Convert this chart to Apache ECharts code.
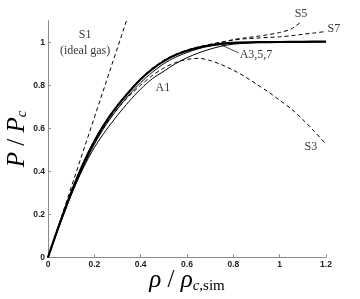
<!DOCTYPE html>
<html>
<head>
<meta charset="utf-8">
<script src="https://cdn.jsdelivr.net/npm/echarts@6/dist/echarts.min.js"></script>
<style>
html,body{margin:0;padding:0;background:#fff;}
#chart{width:360px;height:299px;}
</style>
</head>
<body>
<div id="chart"></div>
<script>
// ---- data ----
var xTicks = [0, 0.2, 0.4, 0.6, 0.8, 1, 1.2];
var yTicks = [0, 0.2, 0.4, 0.6, 0.8, 1];

var rhoS1 = [0, 0.34];
var pS1   = [0, 1.104];

var rhoGrid = [0, 0.05, 0.1, 0.15, 0.2, 0.25, 0.3, 0.35, 0.4, 0.45, 0.5, 0.55, 0.6, 0.65, 0.7, 0.75, 0.8, 0.9, 1.0, 1.1, 1.2];
var pExact  = [0, 0.155, 0.30, 0.43, 0.54, 0.63, 0.705, 0.77, 0.828, 0.875, 0.912, 0.94, 0.96, 0.975, 0.986, 0.993, 0.997, 1.0, 1.001, 1.002, 1.003];
var pA357   = [0, 0.15, 0.29, 0.415, 0.525, 0.615, 0.69, 0.755, 0.812, 0.86, 0.9, 0.93, 0.952, 0.97, 0.982, 0.99, 0.995, 0.999, 1.0, 1.001, 1.002];
var pA1     = [0, 0.15, 0.29, 0.41, 0.51, 0.59, 0.66, 0.725, 0.782, 0.83, 0.865, 0.9, 0.928, 0.95, 0.968, 0.982, 0.991, 0.998, 1.0, 1.001, 1.002];

var rhoS3 = [0, 0.05, 0.1, 0.15, 0.2, 0.25, 0.3, 0.35, 0.4, 0.45, 0.5, 0.55, 0.6, 0.65, 0.7, 0.75, 0.8, 0.85, 0.9, 0.95, 1.0, 1.05, 1.1, 1.15, 1.2];
var pS3   = [0, 0.155, 0.295, 0.425, 0.53, 0.62, 0.69, 0.75, 0.80, 0.845, 0.88, 0.905, 0.92, 0.925, 0.915, 0.895, 0.87, 0.84, 0.805, 0.77, 0.73, 0.69, 0.64, 0.585, 0.525];

var rhoS5 = [0, 0.05, 0.1, 0.15, 0.2, 0.25, 0.3, 0.35, 0.4, 0.45, 0.5, 0.55, 0.6, 0.65, 0.7, 0.75, 0.8, 0.85, 0.9, 0.95, 1.0, 1.05, 1.095];
var pS5   = [0, 0.156, 0.302, 0.432, 0.542, 0.632, 0.707, 0.772, 0.830, 0.878, 0.915, 0.943, 0.963, 0.978, 0.99, 1.0, 1.012, 1.02, 1.027, 1.035, 1.045, 1.062, 1.097];

var rhoS7 = [0, 0.05, 0.1, 0.15, 0.2, 0.25, 0.3, 0.35, 0.4, 0.45, 0.5, 0.55, 0.6, 0.65, 0.7, 0.75, 0.8, 0.85, 0.9, 0.95, 1.0, 1.05, 1.1, 1.15, 1.2];
var pS7   = [0, 0.156, 0.302, 0.432, 0.542, 0.632, 0.707, 0.772, 0.830, 0.878, 0.915, 0.943, 0.963, 0.978, 0.99, 1.0, 1.01, 1.016, 1.019, 1.022, 1.025, 1.03, 1.037, 1.043, 1.05];

// annotation labels (data coordinates)
var labelText = ['S1\n(ideal gas)', 'A1', 'A3,5,7', 'S5', 'S7', 'S3'];
var labelRho  = [0.16, 0.496, 0.898, 1.092, 1.234, 1.135];
var labelP    = [0.995, 0.788, 0.941, 1.131, 1.062, 0.513];
var leaderRho = [0.742, 0.824];
var leaderP   = [0.99, 0.95];

function zip(xs, ys) { return xs.map(function (x, i) { return [x, ys[i]]; }); }

var serif = '"Liberation Serif", "DejaVu Serif", serif';
var thin = { color: '#000', width: 1 };
var dashed = { color: '#000', width: 1, type: [4, 3] };

var chart = echarts.init(document.getElementById('chart'), null, { renderer: 'canvas' });
chart.setOption({
  animation: false,
  backgroundColor: '#fff',
  grid: { left: 48, right: 34, top: 20.7, bottom: 41.7, containLabel: false, outerBoundsMode: 'none' },
  xAxis: {
    type: 'value', min: 0, max: 1.2, interval: 0.2,
    splitLine: { show: false },
    axisLine: { lineStyle: { color: '#8a8a8a', width: 1 } },
    axisTick: { inside: true, length: 3, lineStyle: { color: '#8a8a8a' }, customValues: xTicks },
    axisLabel: { customValues: xTicks, margin: 3, fontSize: 8.5, fontWeight: 'bold', color: '#222', fontFamily: '"Liberation Sans", Arial, sans-serif' },
    name: '{i|\u03c1}{n| / }{i|\u03c1}{si|c}{sn|,sim}',
    nameLocation: 'middle', nameGap: 11, nameMoveOverlap: false,
    nameTextStyle: {
      rich: {
        i: { fontFamily: serif, fontStyle: 'italic', fontSize: 25, color: '#000' },
        n: { fontFamily: serif, fontSize: 25, color: '#000' },
        si: { fontFamily: serif, fontStyle: 'italic', fontSize: 15, color: '#000', verticalAlign: 'bottom', padding: [10, 0, 0, 0] },
        sn: { fontFamily: serif, fontSize: 15, color: '#000', verticalAlign: 'bottom', padding: [10, 0, 0, 0] }
      }
    }
  },
  yAxis: {
    type: 'value', min: 0, max: 1.1, interval: 0.2,
    splitLine: { show: false },
    axisLine: { lineStyle: { color: '#8a8a8a', width: 1 } },
    axisTick: { inside: true, length: 3, lineStyle: { color: '#8a8a8a' }, customValues: yTicks },
    axisLabel: { customValues: yTicks, margin: 3, fontSize: 8.5, fontWeight: 'bold', color: '#222', fontFamily: '"Liberation Sans", Arial, sans-serif' },
    name: '{i|P}{n| / }{i|P}{si|c}',
    nameLocation: 'middle', nameRotate: 90, nameGap: 18, nameMoveOverlap: false,
    nameTextStyle: {
      rich: {
        i: { fontFamily: serif, fontStyle: 'italic', fontSize: 25, color: '#000' },
        n: { fontFamily: serif, fontSize: 25, color: '#000' },
        si: { fontFamily: serif, fontStyle: 'italic', fontSize: 15, color: '#000', verticalAlign: 'bottom', padding: [10, 0, 0, 0] }
      }
    }
  },
  series: [
    { type: 'line', data: zip(rhoS1, pS1), showSymbol: false, lineStyle: dashed, z: 3 },
    { type: 'line', data: zip(rhoS3, pS3), showSymbol: false, smooth: 0.3, lineStyle: dashed, z: 3 },
    { type: 'line', data: zip(rhoS5, pS5), showSymbol: false, smooth: 0.3, lineStyle: dashed, z: 3 },
    { type: 'line', data: zip(rhoS7, pS7), showSymbol: false, smooth: 0.3, lineStyle: dashed, z: 3 },
    { type: 'line', data: zip(rhoGrid, pA1), showSymbol: false, smooth: 0.3, lineStyle: thin, z: 4 },
    { type: 'line', data: zip(rhoGrid, pA357), showSymbol: false, smooth: 0.3, lineStyle: thin, z: 4,
      markLine: {
        silent: true, symbol: ['none', 'none'], label: { show: false },
        lineStyle: { color: '#000', width: 0.7, type: 'solid' },
        data: [[{ coord: [leaderRho[0], leaderP[0]] }, { coord: [leaderRho[1], leaderP[1]] }]]
      }
    },
    { type: 'line', data: zip(rhoGrid, pExact), showSymbol: false, smooth: 0.3, lineStyle: { color: '#000', width: 2.2 }, z: 5 },
    { type: 'scatter', clip: false, symbolSize: 0, silent: true,
      data: labelRho.map(function (x, i) { return { value: [x, labelP[i]], name: labelText[i] }; }),
      label: { show: true, position: 'inside', formatter: function (p) { return p.name; },
               fontFamily: serif, fontSize: 12, color: '#000', lineHeight: 16 }
    }
  ]
});
</script>
</body>
</html>
